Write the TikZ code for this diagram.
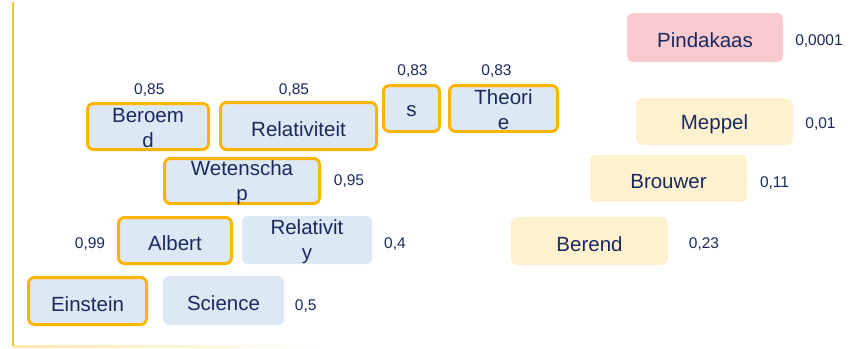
\documentclass[tikz,border=0pt]{standalone}
\usepackage{fontspec}
\setmainfont{Liberation Sans}
\definecolor{boxblue}{HTML}{DDE8F5}
\definecolor{boxyellow}{HTML}{FDF1CF}
\definecolor{boxpink}{HTML}{F9CACF}
\definecolor{orangeb}{HTML}{FFB400}
\definecolor{axisc}{HTML}{FFC72C}
\definecolor{navy}{HTML}{1A2A5E}
\begin{document}
\begin{tikzpicture}[x=1pt,y=-1pt,
  box/.style={rounded corners=6pt, fill=boxblue, inner sep=0pt},
  hl/.style={box, draw=orangeb, line width=3pt},
  yel/.style={box, fill=boxyellow},
  pink/.style={box, fill=boxpink},
  txt/.style={font=\fontsize{20.5}{25}\selectfont, text=navy, align=center, inner sep=0pt, yshift=-3pt},
  txtt/.style={txt, yshift=1.5pt},
  val/.style={font=\fontsize{15.5}{18}\selectfont, text=navy, inner sep=0pt, anchor=base}]
\useasboundingbox (0,0) rectangle (853,348);
% axes
\shade[left color=axisc!40, right color=white] (13,345.5) rectangle (330,347);
\coordinate (atop) at (13,2);
\coordinate (abot) at (13,346);
\draw[axisc, line width=2pt] (atop) -- (abot);
% highlighted boxes
\node[hl, minimum width=121pt, minimum height=46pt] (beroemd) at (148,126.5) {};
\node[hl, minimum width=156pt, minimum height=47pt] (relativiteit) at (298.5,126) {};
\node[hl, minimum width=56pt, minimum height=46pt] (s) at (411.5,108.5) {};
\node[hl, minimum width=108pt, minimum height=46pt] (theorie) at (503.5,108.5) {};
\node[hl, minimum width=155pt, minimum height=45pt] (wetenschap) at (242,181) {};
\node[hl, minimum width=113pt, minimum height=46pt] (albert) at (175,240.5) {};
\node[hl, minimum width=118pt, minimum height=47pt] (einstein) at (87.5,301) {};
% plain boxes
\node[box, minimum width=130pt, minimum height=48pt] (relativity) at (307,240) {};
\node[box, minimum width=121pt, minimum height=49pt] (science) at (223.5,300.5) {};
\node[pink, minimum width=156pt, minimum height=49pt] (pindakaas) at (705,37.5) {};
\node[yel, minimum width=157pt, minimum height=47pt] (meppel) at (714.5,121.5) {};
\node[yel, minimum width=157pt, minimum height=47pt] (brouwer) at (668.5,178.5) {};
\node[yel, minimum width=157pt, minimum height=48pt] (berend) at (589.5,241) {};
% box texts
\node[txtt] (beroemd-t) at (beroemd) {Beroem\\d};
\node[txt] (relativiteit-t) at (relativiteit) {Relativiteit};
\node[txt] (s-t) at (s) {s};
\node[txtt] (theorie-t) at (theorie) {Theori\\e};
\node[txtt] (wetenschap-t) at (wetenschap) {Wetenscha\\p};
\node[txt] (albert-t) at (albert) {Albert};
\node[txt] (einstein-t) at (einstein) {Einstein};
\node[txtt] (relativity-t) at (relativity) {Relativit\\y};
\node[txt] (science-t) at (science) {Science};
\node[txt] (pindakaas-t) at (pindakaas) {Pindakaas};
\node[txt] (meppel-t) at (meppel) {Meppel};
\node[txt] (brouwer-t) at (brouwer) {Brouwer};
\node[txt] (berend-t) at (berend) {Berend};
% values
\node[val] (vpin) at (819,45) {0,0001};
\node[val] (vmep) at (820.5,128) {0,01};
\node[val] (vbro) at (774.5,187) {0,11};
\node[val] (vber) at (704,248) {0,23};
\node[val] (vthe) at (496.5,75) {0,83};
\node[val] (vs) at (412.5,75) {0,83};
\node[val] (vbrm) at (149.3,94.3) {0,85};
\node[val] (vrel) at (294,94.3) {0,85};
\node[val] (vwet) at (349,185) {0,95};
\node[val] (valb) at (90,248.3) {0,99};
\node[val] (vrty) at (395,248.3) {0,4};
\node[val] (vsci) at (305.7,310) {0,5};
\end{tikzpicture}
\end{document}
